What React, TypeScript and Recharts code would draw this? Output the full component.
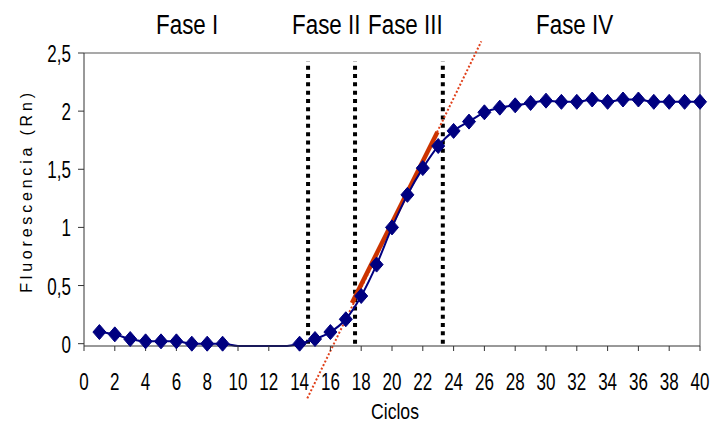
import { LineChart, Line, XAxis, YAxis, ReferenceLine } from "recharts";

// ── data ────────────────────────────────────────────────────────────────────

const cycles = [
  1, 2, 3, 4, 5, 6, 7, 8, 9, 10, 11, 12, 13, 14, 15, 16, 17, 18, 19, 20,
  21, 22, 23, 24, 25, 26, 27, 28, 29, 30, 31, 32, 33, 34, 35, 36, 37, 38, 39, 40,
];
const fluorescence = [
  0.1, 0.08, 0.04, 0.02, 0.02, 0.02, 0.0, 0.0, 0.0, -0.02, -0.02, -0.02, -0.02, 0.0,
  0.04, 0.1, 0.21, 0.41, 0.68, 1.0, 1.28, 1.51, 1.7, 1.83, 1.91, 1.99, 2.03, 2.05,
  2.07, 2.09, 2.08, 2.08, 2.1, 2.08, 2.1, 2.1, 2.08, 2.08, 2.08, 2.08,
];
// cycles drawn without a marker in the original
const noMarker = [10, 11, 12, 13];

const xTicks = [0, 2, 4, 6, 8, 10, 12, 14, 16, 18, 20, 22, 24, 26, 28, 30, 32, 34, 36, 38, 40];
const yTicks = [0, 0.5, 1, 1.5, 2, 2.5];

// phase boundaries (cycle) and fitted line endpoints
const phaseBounds = [14.55, 17.6, 23.3];
const fitThick = [
  { x: 17.4, y: 0.35 },
  { x: 22.95, y: 1.82 },
];
const fitDotted = [
  { x: 14.5, y: -0.47 },
  { x: 25.8, y: 2.6 },
];

const data = cycles.map((c, i) => ({ x: c, y: fluorescence[i] }));

// ── styles ──────────────────────────────────────────────────────────────────

// no narrow font installed, so squeeze Liberation Sans horizontally
const FONT = "'Liberation Sans', Arial, sans-serif";
const SQUEEZE = 0.74;
const BLUE = "#000080";

interface DotProps {
  cx?: number;
  cy?: number;
  payload?: { x: number; y: number };
}

function Diamond({ cx = 0, cy = 0, payload }: DotProps) {
  if (payload && noMarker.includes(payload.x)) return <g />;
  return (
    <polygon
      points={`${cx},${cy - 7.5} ${cx + 6.5},${cy} ${cx},${cy + 7.5} ${cx - 6.5},${cy}`}
      fill={BLUE}
      stroke={BLUE}
      strokeWidth={1}
    />
  );
}

interface TickProps {
  x?: number;
  y?: number;
  payload?: { value: number };
}

function XTick({ x = 0, y = 0, payload }: TickProps) {
  return (
    <text
      transform={`translate(${x},${y + 33}) scale(${SQUEEZE},1)`}
      textAnchor="middle"
      fontFamily={FONT}
      fontSize={23}
      fill="#000"
    >
      {payload?.value}
    </text>
  );
}

function YTick({ x = 0, y = 0, payload }: TickProps) {
  return (
    <text
      transform={`translate(${x},${y + 9}) scale(${SQUEEZE},1)`}
      textAnchor="end"
      fontFamily={FONT}
      fontSize={23}
      fill="#000"
    >
      {String(payload?.value ?? "").replace(".", ",")}
    </text>
  );
}

function Title({ x, text }: { x: number; text: string }) {
  return (
    <text transform={`translate(${x},34) scale(0.8,1)`} fontFamily={FONT} fontSize={28} fill="#000">
      {text}
    </text>
  );
}

export default function App() {
  return (
    <div style={{ position: "absolute", left: 0, top: 0, width: 710, height: 426, background: "#fff" }}>
      <LineChart width={710} height={426} data={data} margin={{ top: 53, right: 10, left: 0, bottom: 0 }}>
        <XAxis
          type="number"
          dataKey="x"
          domain={[0, 40]}
          ticks={xTicks}
          interval={0}
          height={80}
          tickSize={5}
          tickMargin={6}
          stroke="#333"
          tick={<XTick />}
        />
        <YAxis
          type="number"
          domain={[0, 2.5]}
          ticks={yTicks}
          width={84}
          tickSize={6}
          tickMargin={7}
          stroke="#333"
          tick={<YTick />}
        />
        <ReferenceLine y={2.5} stroke="#8c8c8c" strokeWidth={1.5} />
        <ReferenceLine x={40} stroke="#8c8c8c" strokeWidth={1.5} />
        {phaseBounds.map((b) => (
          <ReferenceLine
            key={b}
            segment={[
              { x: b, y: 0 },
              { x: b, y: 2.43 },
            ]}
            stroke="#000"
            strokeWidth={4}
            strokeDasharray="4 4.3"
          />
        ))}
        <ReferenceLine
          segment={fitDotted}
          ifOverflow="visible"
          stroke="#e0401a"
          strokeWidth={2}
          strokeDasharray="2 2"
        />
        <ReferenceLine segment={fitThick} stroke="#cc3300" strokeWidth={4.5} />
        <Line
          type="monotone"
          dataKey="y"
          stroke={BLUE}
          strokeWidth={2}
          dot={<Diamond />}
          activeDot={false}
          isAnimationActive={false}
        />
      </LineChart>
      <svg
        width={710}
        height={426}
        style={{ position: "absolute", left: 0, top: 0, pointerEvents: "none" }}
      >
        <Title x={156} text="Fase I" />
        <Title x={292} text="Fase II" />
        <Title x={368} text="Fase III" />
        <Title x={536} text="Fase IV" />
        <text
          transform={`translate(395,419) scale(0.8,1)`}
          fontFamily={FONT}
          fontSize={22}
          textAnchor="middle"
        >
          Ciclos
        </text>
        <text
          transform="translate(32,191) rotate(-90)"
          fontFamily={FONT}
          fontSize={16}
          letterSpacing={3.8}
          textAnchor="middle"
        >
          Fluorescencia (Rn)
        </text>
      </svg>
    </div>
  );
}
